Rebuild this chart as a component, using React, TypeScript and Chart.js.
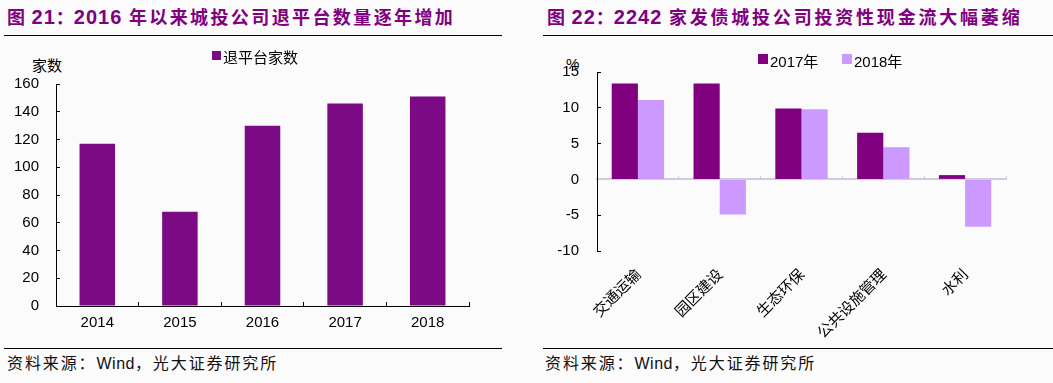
import React, { useEffect, useRef } from "react";
import { Chart, registerables } from "chart.js";

Chart.register(...registerables);

// ---------- data ----------
const years = ["2014", "2015", "2016", "2017", "2018"];
const exitCounts = [117, 68, 130, 146, 151];
const exitLabel = "退平台家数";
const leftMin = 0;
const leftMax = 160;
const leftStep = 20;

const sectors = ["交通运输", "园区建设", "生态环保", "公共设施管理", "水利"];
const cf2017 = [13.4, 13.4, 9.9, 6.5, 0.6];
const cf2018 = [11.1, -4.9, 9.8, 4.5, -6.6];
const label2017 = "2017年";
const label2018 = "2018年";
const rightMin = -10;
const rightMax = 15;
const rightStep = 5;

const leftTitleNum = ["21", "2016"];
const leftTitleText = "年以来城投公司退平台数量逐年增加";
const rightTitleNum = ["22", "2242"];
const rightTitleText = "家发债城投公司投资性现金流大幅萎缩";
const sourceText = ["资料来源：", "Wind", "，光大证券研究所"];

// ---------- styles ----------
const FAMILY = "'Liberation Sans', Arial, 'Noto Sans CJK SC', sans-serif";
const CJK = "'Noto Sans CJK SC', 'Liberation Sans', sans-serif";
const PURPLE = "#800080";
const LILAC = "#CC99FF";

function boxLegend(items: { x: number }[], boxTop: number, box: number, textY: number, gap: number) {
  return {
    id: "boxLegend",
    afterDraw(chart: any) {
      const ctx = chart.ctx;
      ctx.save();
      ctx.font = `15px ${FAMILY}`;
      ctx.textBaseline = "middle";
      ctx.textAlign = "left";
      chart.data.datasets.forEach((ds: any, i: number) => {
        const x = items[i].x;
        ctx.fillStyle = ds.backgroundColor;
        ctx.fillRect(x, boxTop, box, box);
        ctx.fillStyle = "#000";
        ctx.fillText(ds.label, x + box + gap, textY);
      });
      ctx.restore();
    },
  };
}

function leftConfig(): any {
  return {
    type: "bar",
    data: {
      labels: years,
      datasets: [
        {
          label: exitLabel,
          data: exitCounts,
          backgroundColor: "#7c0a84",
          categoryPercentage: 1,
          barPercentage: 0.43,
        },
      ],
    },
    options: {
      animation: false,
      responsive: false,
      maintainAspectRatio: false,
      layout: { padding: { top: 44, right: 31, left: 0, bottom: 0 } },
      plugins: { legend: { display: false }, tooltip: { enabled: false } },
      scales: {
        x: {
          offset: true,
          grid: { offset: true, drawOnChartArea: false, tickLength: -4, color: "#000" },
          border: { color: "#000", width: 1 },
          ticks: { padding: 12, color: "#000", font: { size: 15, family: FAMILY }, maxRotation: 0 },
          afterFit: (s: any) => {
            s.height = 34;
          },
        },
        y: {
          min: leftMin,
          max: leftMax,
          ticks: { stepSize: leftStep, padding: 21, color: "#000", font: { size: 15, family: FAMILY } },
          grid: { drawOnChartArea: false, tickLength: -4, color: "#000" },
          border: { color: "#000", width: 1 },
          afterFit: (s: any) => {
            s.width = 56;
          },
        },
      },
    },
    plugins: [boxLegend([{ x: 212 }], 11, 9, 19, 2)],
  };
}

function rightConfig(): any {
  return {
    type: "bar",
    data: {
      labels: sectors,
      datasets: [
        { label: label2017, data: cf2017, backgroundColor: PURPLE, categoryPercentage: 0.64, barPercentage: 1 },
        { label: label2018, data: cf2018, backgroundColor: LILAC, categoryPercentage: 0.64, barPercentage: 1 },
      ],
    },
    options: {
      animation: false,
      responsive: false,
      maintainAspectRatio: false,
      layout: { padding: { top: 32, right: 47, left: 0, bottom: 0 } },
      plugins: { legend: { display: false }, tooltip: { enabled: false } },
      scales: {
        x: {
          offset: true,
          grid: { display: false, drawTicks: false },
          border: { display: false },
          ticks: {
            minRotation: 45,
            maxRotation: 45,
            autoSkip: false,
            padding: 15,
            labelOffset: 1,
            color: "#000",
            font: { size: 15, family: FAMILY },
          },
          afterFit: (s: any) => {
            s.height = 89;
          },
        },
        x2: {
          type: "category",
          position: { y: 0 },
          offset: true,
          grid: { offset: true, drawOnChartArea: false, tickLength: -4, color: "#d3cadb" },
          border: { color: "#d3cadb", width: 2 },
          ticks: { display: false },
        },
        y: {
          min: rightMin,
          max: rightMax,
          ticks: { stepSize: rightStep, padding: 22, color: "#000", font: { size: 15, family: FAMILY } },
          grid: { drawOnChartArea: false, tickLength: -4, color: "#000" },
          border: { color: "#000", width: 1 },
          afterFit: (s: any) => {
            s.width = 57;
          },
        },
      },
    },
    plugins: [boxLegend([{ x: 218 }, { x: 302 }], 14, 10, 22.5, 2)],
  };
}

function Title({ left, nums, text, spacing }: { left: number; nums: string[]; text: string; spacing: number }) {
  return (
    <div
      style={{
        position: "absolute",
        left,
        top: 5,
        whiteSpace: "nowrap",
        fontWeight: "bold",
        lineHeight: "22px",
        color: PURPLE,
      }}
    >
      <span style={{ fontFamily: CJK, fontSize: 18 }}>图</span>
      <span style={{ fontFamily: FAMILY, fontSize: 20, letterSpacing: 1 }}> {nums[0]}</span>
      <span style={{ fontFamily: CJK, fontSize: 18 }}>：</span>
      <span style={{ fontFamily: FAMILY, fontSize: 20, letterSpacing: 1 }}>{nums[1]} </span>
      <span style={{ fontFamily: CJK, fontSize: 18, letterSpacing: spacing }}>{text}</span>
    </div>
  );
}

function Source({ left }: { left: number }) {
  return (
    <div
      style={{
        position: "absolute",
        left,
        top: 352,
        whiteSpace: "nowrap",
        lineHeight: "20px",
        fontSize: 16,
        color: "#111",
      }}
    >
      <span style={{ fontFamily: CJK, letterSpacing: 1.9 }}>{sourceText[0]}</span>
      <span style={{ fontFamily: FAMILY, letterSpacing: 0.5 }}>{sourceText[1]}</span>
      <span style={{ fontFamily: CJK, letterSpacing: 1.9 }}>{sourceText[2]}</span>
    </div>
  );
}

export default function App() {
  const leftRef = useRef<HTMLCanvasElement>(null);
  const rightRef = useRef<HTMLCanvasElement>(null);

  useEffect(() => {
    const c1 = new Chart(leftRef.current as HTMLCanvasElement, leftConfig());
    const c2 = new Chart(rightRef.current as HTMLCanvasElement, rightConfig());
    return () => {
      c1.destroy();
      c2.destroy();
    };
  }, []);

  const line = (left: number, top: number, width: number) => (
    <div style={{ position: "absolute", left, top, width, height: 1, background: "#000" }} />
  );

  return (
    <div
      style={{
        position: "fixed",
        left: 0,
        top: 0,
        width: 1053,
        height: 383,
        background: "#fbfbfb",
        overflow: "hidden",
      }}
    >
      <Title left={7} nums={leftTitleNum} text={leftTitleText} spacing={2.4} />
      <Title left={547} nums={rightTitleNum} text={rightTitleText} spacing={2.8} />
      {line(4, 35, 498)}
      {line(543, 35, 510)}

      <div
        style={{
          position: "absolute",
          left: 32,
          top: 56,
          fontFamily: FAMILY,
          fontSize: 15,
          lineHeight: "20px",
          color: "#000",
        }}
      >
        家数
      </div>
      <div
        style={{
          position: "absolute",
          left: 566,
          top: 54,
          fontFamily: FAMILY,
          fontSize: 15,
          lineHeight: "20px",
          color: "#000",
        }}
      >
        %
      </div>

      <canvas
        ref={leftRef}
        width={500}
        height={300}
        style={{ position: "absolute", left: 0, top: 40, width: 500, height: 300 }}
      />
      <canvas
        ref={rightRef}
        width={513}
        height={300}
        style={{ position: "absolute", left: 540, top: 40, width: 513, height: 300 }}
      />

      {line(4, 348, 498)}
      {line(543, 348, 510)}
      <Source left={7} />
      <Source left={545} />
    </div>
  );
}
